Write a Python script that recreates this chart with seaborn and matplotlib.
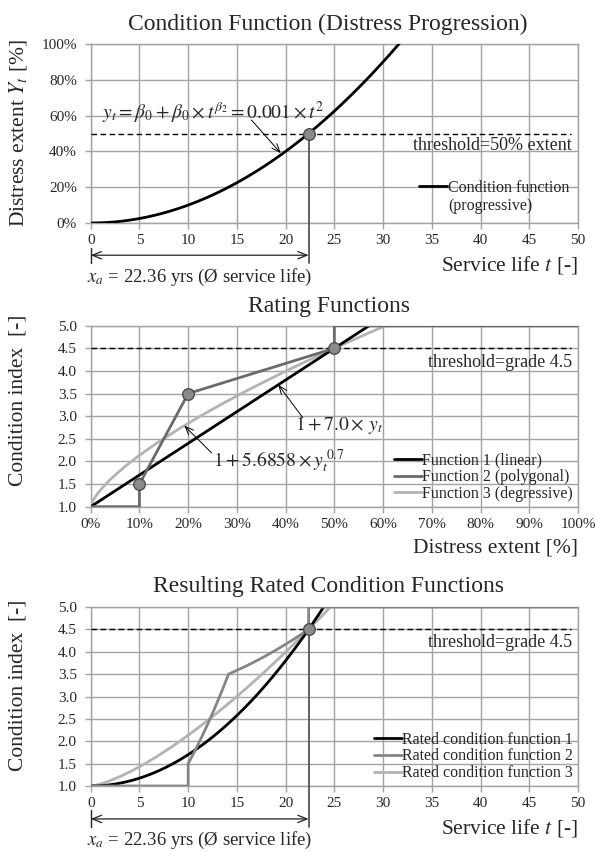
import numpy as np
import matplotlib
matplotlib.use("Agg")
import matplotlib.pyplot as plt
import matplotlib.transforms as mtransforms
from matplotlib.ticker import PercentFormatter, MultipleLocator, FormatStrFormatter
import seaborn as sns

# ---- model parameters -------------------------------------------------------
cond_coef = 0.001          # y_t = 0.001 * t^2
cond_exp = 2.0
threshold_extent = 0.50    # 50 % distress extent
threshold_grade = 4.5
service_life_xa = 22.36    # years until threshold is reached
grade_min, grade_max = 1.0, 5.0

lin_slope = 7.0            # rating function 1: 1 + 7.0 * y
deg_coef = 5.6858          # rating function 3: 1 + 5.6858 * y^0.7
deg_exp = 0.7

# rating function 2 (polygon) vertices
poly_extent = [0.00, 0.10, 0.10, 0.20, 0.50, 0.50, 1.00]
poly_grade = [1.0, 1.0, 1.5, 3.5, 4.5, 5.0, 5.0]
poly_markers_extent = [0.10, 0.20, 0.50]
poly_markers_grade = [1.5, 3.5, 4.5]

# ---- style --------------------------------------------------------------------
sns.set_theme(style="whitegrid")
plt.rcParams["font.family"] = ["Liberation Serif", "DejaVu Serif"]
plt.rcParams["mathtext.fontset"] = "stix"
GRID = "#a3a3a3"
C1, C2, C2B, C3 = "#000000", "#6a6a6a", "#858585", "#b3b3b3"
TICK_FS, LAB_FS, TITLE_FS, LEG_FS, THR_FS = 11, 15.5, 17, 11.5, 13

fig = plt.figure(figsize=(5.95, 8.52), dpi=100)
W, H = 595.0, 852.0


def axes_px(left, top, right, bottom):
    return fig.add_axes([left / W, 1 - bottom / H, (right - left) / W, (bottom - top) / H])


def style_axes(ax):
    ax.grid(True, color=GRID, lw=1.0)
    for s in ax.spines.values():
        s.set_color(GRID)
        s.set_linewidth(1.0)
    ax.tick_params(axis="both", which="major", direction="out", length=4, width=1.0,
                   color=GRID, labelsize=TICK_FS, bottom=True, left=True)
    ax.tick_params(axis="x", pad=4)
    ax.tick_params(axis="y", pad=6)
    ax.set_axisbelow(True)


def set_ylabel(ax, text, ycenter):
    ax.set_ylabel(text, fontsize=LAB_FS)
    ax.yaxis.label.set_va("center")
    ax.yaxis.set_label_coords(-0.149, ycenter)


def set_xlabel(ax, text, ycenter):
    ax.set_xlabel(text, fontsize=LAB_FS, loc="right")
    ax.xaxis.set_label_coords(1.0, ycenter)
    ax.xaxis.label.set_va("center")


def marker(ax, x, y):
    sns.scatterplot(x=x, y=y, ax=ax, s=70, color="#8a8a8a", edgecolor="#444444",
                    linewidth=0.9, zorder=6, legend=False)


def service_life_bracket(ax, ybar0, ybar1, yarrow, ytext, ydrop_top):
    tr = mtransforms.blended_transform_factory(ax.transData, ax.transAxes)
    ax.plot([0, 0], [ybar0, ybar1], transform=tr, color="#222222", lw=1.0, clip_on=False)
    ax.plot([service_life_xa, service_life_xa], [ydrop_top, ybar1], transform=tr,
            color="#555555", lw=1.3, clip_on=False, zorder=5)
    ax.annotate("", xy=(service_life_xa, yarrow), xytext=(0, yarrow), xycoords=tr,
                textcoords=tr, annotation_clip=False,
                arrowprops=dict(arrowstyle="<->,head_length=0.55,head_width=0.22",
                                lw=0.9, color="#222222", shrinkA=0, shrinkB=0))
    ax.text(-0.008, ytext, r"$x_a$" + f" = {service_life_xa:.2f} yrs (Ø service life)",
            transform=ax.transAxes, ha="left", va="center", fontsize=13.5, clip_on=False)


def threshold_line(ax, level):
    ax.axhline(level, xmin=0, xmax=0.985, color="black", lw=1.0, ls=(0, (4, 2.5)), zorder=3)


ARROW = dict(arrowstyle="->,head_length=0.5,head_width=0.2", lw=0.7, color="black",
             shrinkA=0, shrinkB=0)
LEGEND_KW = dict(loc="lower right", bbox_to_anchor=(1.0, 0.0), frameon=False,
                 fontsize=LEG_FS, handlelength=1.75, handletextpad=0.05)

# ---- panel 1: condition function --------------------------------------------
t = np.linspace(0, 50, 1001)
extent = cond_coef * t ** cond_exp

ax1 = axes_px(90.7, 44, 578, 223)
style_axes(ax1)
sns.lineplot(x=t, y=extent, ax=ax1, color=C1, lw=2.0, label="Condition function", zorder=4)
ax1.plot([], [], ls="none", label="(progressive)")
threshold_line(ax1, threshold_extent)
ax1.set_xlim(0, 50)
ax1.set_ylim(0, 1)
ax1.xaxis.set_major_locator(MultipleLocator(5))
ax1.yaxis.set_major_locator(MultipleLocator(0.2))
ax1.yaxis.set_major_formatter(PercentFormatter(1.0, decimals=0))
ax1.set_title("Condition Function (Distress Progression)", fontsize=TITLE_FS, x=0.487, pad=10)
set_ylabel(ax1, r"Distress extent $Y_t$ [%]", 0.5)
set_xlabel(ax1, r"Service life $t$ [-]", -0.235)
ax1.text(0.988, 0.435, "threshold=50% extent", transform=ax1.transAxes, ha="right",
         va="center", fontsize=THR_FS)
ax1.text(1.2, 0.62, r"$y_t=\beta_0+\beta_0\times t^{\beta_2}=0.001\times t^2$",
         fontsize=14, ha="left", va="center")
ax1.annotate("", xy=(19.5, cond_coef * 19.5 ** 2 + 0.01), xytext=(16.5, 0.575), arrowprops=ARROW)
marker(ax1, [service_life_xa], [threshold_extent])
service_life_bracket(ax1, -0.14, -0.225, -0.18, -0.305, threshold_extent)
ax1.legend(borderpad=0.25, labelspacing=0.15, borderaxespad=0.3, **LEGEND_KW)

# ---- panel 2: rating functions -------------------------------------------------
y = np.linspace(0, 1, 1001)
grade_lin = np.minimum(grade_min + lin_slope * y, grade_max)
grade_deg = np.minimum(grade_min + deg_coef * y ** deg_exp, grade_max)

ax2 = axes_px(90.7, 325.7, 578, 506.7)
style_axes(ax2)
sns.lineplot(x=y, y=grade_lin, ax=ax2, color=C1, lw=2.0, label="Function 1 (linear)", zorder=4)
sns.lineplot(x=poly_extent, y=poly_grade, ax=ax2, color=C2, lw=2.0, sort=False,
             estimator=None, label="Function 2 (polygonal)", zorder=4)
sns.lineplot(x=y, y=grade_deg, ax=ax2, color=C3, lw=2.0, label="Function 3 (degressive)", zorder=3)
threshold_line(ax2, threshold_grade)
ax2.set_xlim(0, 1)
ax2.set_ylim(grade_min, grade_max)
ax2.xaxis.set_major_locator(MultipleLocator(0.1))
ax2.xaxis.set_major_formatter(PercentFormatter(1.0, decimals=0))
ax2.yaxis.set_major_locator(MultipleLocator(0.5))
ax2.yaxis.set_major_formatter(FormatStrFormatter("%.1f"))
ax2.set_title("Rating Functions", fontsize=TITLE_FS, x=0.489, pad=10)
set_ylabel(ax2, "Condition index  [-]", 0.59)
set_xlabel(ax2, "Distress extent [%]", -0.23)
ax2.text(0.988, 4.18, "threshold=grade 4.5", transform=ax2.get_yaxis_transform(), ha="right",
         va="center", fontsize=THR_FS)
ax2.text(0.42, 2.81, r"$1+7.0\times\,y_t$", fontsize=14, ha="left", va="center")
ax2.annotate("", xy=(0.385, grade_min + lin_slope * 0.385), xytext=(0.435, 2.97), arrowprops=ARROW)
ax2.text(0.25, 2.0, r"$1+5.6858\times y_t^{\;0.7}$", fontsize=14, ha="left", va="center")
ax2.annotate("", xy=(0.192, grade_min + deg_coef * 0.192 ** deg_exp), xytext=(0.248, 2.19),
             arrowprops=ARROW)
marker(ax2, poly_markers_extent, poly_markers_grade)
ax2.legend(borderpad=0.1, labelspacing=0.05, borderaxespad=0.2, **LEGEND_KW)

# ---- panel 3: rated condition functions --------------------------------------
rated1 = grade_min + lin_slope * extent
rated3 = grade_min + deg_coef * extent ** deg_exp

# polygon mapped to service life: each segment sampled in extent, t = (y / coef)^(1/exp)
seg_t, seg_g = [], []
for i in range(len(poly_extent) - 1):
    s = np.linspace(0, 1, 60)
    e = poly_extent[i] + s * (poly_extent[i + 1] - poly_extent[i])
    g = poly_grade[i] + s * (poly_grade[i + 1] - poly_grade[i])
    seg_t.append((e / cond_coef) ** (1 / cond_exp))
    seg_g.append(g)
seg_t.append(np.array([50.0]))
seg_g.append(np.array([poly_grade[-1]]))
rated2_t = np.concatenate(seg_t)
rated2_g = np.concatenate(seg_g)

ax3 = axes_px(90.7, 607, 578, 786)
style_axes(ax3)
sns.lineplot(x=t, y=rated1, ax=ax3, color=C1, lw=2.0, label="Rated condition function 1", zorder=4)
sns.lineplot(x=rated2_t, y=rated2_g, ax=ax3, color=C2B, lw=2.0, sort=False, estimator=None,
             label="Rated condition function 2", zorder=4)
sns.lineplot(x=t, y=rated3, ax=ax3, color=C3, lw=2.0, label="Rated condition function 3", zorder=3)
threshold_line(ax3, threshold_grade)
ax3.set_xlim(0, 50)
ax3.set_ylim(grade_min, grade_max)
ax3.xaxis.set_major_locator(MultipleLocator(5))
ax3.yaxis.set_major_locator(MultipleLocator(0.5))
ax3.yaxis.set_major_formatter(FormatStrFormatter("%.1f"))
ax3.set_title("Resulting Rated Condition Functions", fontsize=TITLE_FS, x=0.487, pad=11)
set_ylabel(ax3, "Condition index  [-]", 0.56)
set_xlabel(ax3, r"Service life $t$ [-]", -0.235)
ax3.text(0.988, 4.2, "threshold=grade 4.5", transform=ax3.get_yaxis_transform(), ha="right",
         va="center", fontsize=THR_FS)
marker(ax3, [service_life_xa], [threshold_grade])
service_life_bracket(ax3, -0.135, -0.23, -0.184, -0.302,
                     (threshold_grade - grade_min) / (grade_max - grade_min))
ax3.legend(borderpad=0.1, labelspacing=0.05, borderaxespad=0.2, **LEGEND_KW)

fig.savefig("out.png", dpi=100)
